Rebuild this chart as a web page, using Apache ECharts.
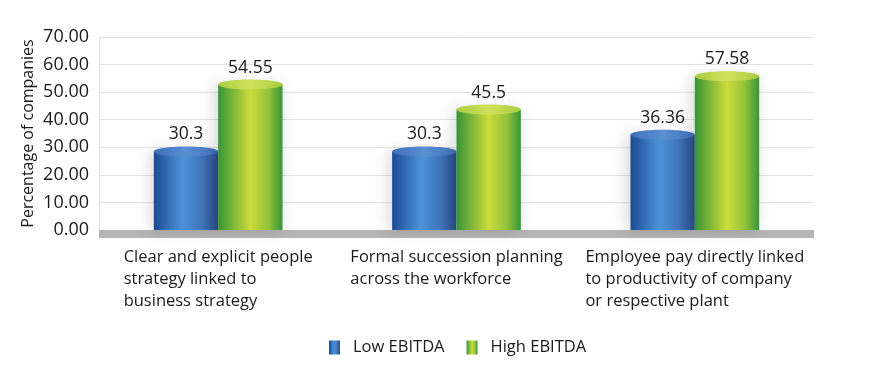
<!DOCTYPE html>
<html><head><meta charset="utf-8">
<script src="https://cdn.jsdelivr.net/npm/echarts@6/dist/echarts.min.js"></script>
<style>html,body{margin:0;padding:0;background:#fff}#c{width:876px;height:375px}</style>
</head><body><div id="c"></div>
<script>
const categories = [
  'Clear and explicit people\nstrategy linked to\nbusiness strategy',
  'Formal succession planning\nacross the workforce',
  'Employee pay directly linked\nto productivity of company\nor respective plant'
];
const seriesNames = ['Low EBITDA', 'High EBITDA'];
const lowValues = [30.3, 30.3, 36.36];
const highValues = [54.55, 45.5, 57.58];
const yMin = 0, yMax = 70, yInterval = 10;
const yTitle = 'Percentage of companies';

const FONT = '"Open Sans", "Noto Sans", sans-serif';
const TXT = '#1a1a1a';

function hgrad(stops) { return new echarts.graphic.LinearGradient(0, 0, 1, 0, stops); }
const blueBody = hgrad([{offset:0,color:'#1c4a94'},{offset:0.45,color:'#4c93d9'},{offset:0.75,color:'#3f74b8'},{offset:1,color:'#2a4c88'}]);
const greenBody = hgrad([{offset:0,color:'#379536'},{offset:0.5,color:'#cddc3c'},{offset:0.78,color:'#93c33a'},{offset:1,color:'#36963a'}]);
const blueTop = hgrad([{offset:0,color:'#3f6fb8'},{offset:0.5,color:'#5a8fd4'},{offset:1,color:'#3f6fb8'}]);
const greenTop = hgrad([{offset:0,color:'#a8cc40'},{offset:0.5,color:'#d2e25a'},{offset:1,color:'#a8cc40'}]);

function makeRender(side, body, topColor) {
  return function (params, api) {
    const cat = api.value(0), val = api.value(1);
    const top = api.coord([cat, val]);
    const base = api.coord([cat, 0]);
    const band = api.size([1, 0])[0];
    const w = band * 0.27;
    const x0 = top[0] + (side === 0 ? -w : 0);
    const ry = 5;
    return {
      type: 'group',
      children: [
        { type: 'rect', shape: { x: x0, y: top[1] + ry, width: w, height: base[1] - top[1] - ry },
          style: { fill: body, shadowBlur: 14, shadowColor: 'rgba(0,0,0,0.16)', shadowOffsetX: -3 } },
        { type: 'ellipse', shape: { cx: x0 + w / 2, cy: top[1] + ry, rx: w / 2, ry: ry },
          style: { fill: topColor } },
        { type: 'text', style: { text: String(val), x: x0 + w / 2, y: top[1] - 3, align: 'center',
          verticalAlign: 'bottom', fontSize: 17.5, fontFamily: FONT, fill: TXT } }
      ]
    };
  };
}

const chart = echarts.init(document.getElementById('c'));
chart.setOption({
  animation: false,
  grid: { left: 99, right: 62, top: 37, bottom: 145 },
  legend: {
    data: seriesNames, left: 324, top: 334, icon: 'rect', itemWidth: 11, itemHeight: 14, itemGap: 22,
    textStyle: { fontSize: 16.5, fontFamily: FONT, color: TXT, padding: [0, 0, 0, 8] }
  },
  xAxis: {
    type: 'category', data: categories, offset: 3.5,
    axisLine: { show: true, onZero: false, lineStyle: { color: '#b5b5b5', width: 8, cap: 'butt' } },
    axisTick: { show: false },
    axisLabel: {
      margin: 13, interval: 0,
      formatter: function (v) { return v.split('\n').map(s => '{t|' + s + '}').join('\n'); },
      rich: { t: { align: 'left', fontSize: 16.5, lineHeight: 22, fontFamily: FONT, color: TXT } }
    }
  },
  yAxis: {
    type: 'value', min: yMin, max: yMax, interval: yInterval,
    name: yTitle, nameLocation: 'middle', nameGap: 63, nameMoveOverlap: false,
    nameTextStyle: { fontSize: 16, fontFamily: FONT, color: TXT },
    axisLine: { show: true, lineStyle: { color: '#e2e2e2' } },
    axisTick: { show: false },
    axisLabel: { margin: 10, fontSize: 18, fontFamily: FONT, color: TXT, formatter: v => v.toFixed(2) },
    splitLine: { lineStyle: { color: '#e2e2e2' } }
  },
  series: [
    { name: seriesNames[0], type: 'custom', renderItem: makeRender(0, blueBody, blueTop),
      itemStyle: { color: blueBody }, encode: { x: 0, y: 1 },
      data: lowValues.map((v, i) => [i, v]) },
    { name: seriesNames[1], type: 'custom', renderItem: makeRender(1, greenBody, greenTop),
      itemStyle: { color: greenBody }, encode: { x: 0, y: 1 },
      data: highValues.map((v, i) => [i, v]) }
  ]
});
</script></body></html>
